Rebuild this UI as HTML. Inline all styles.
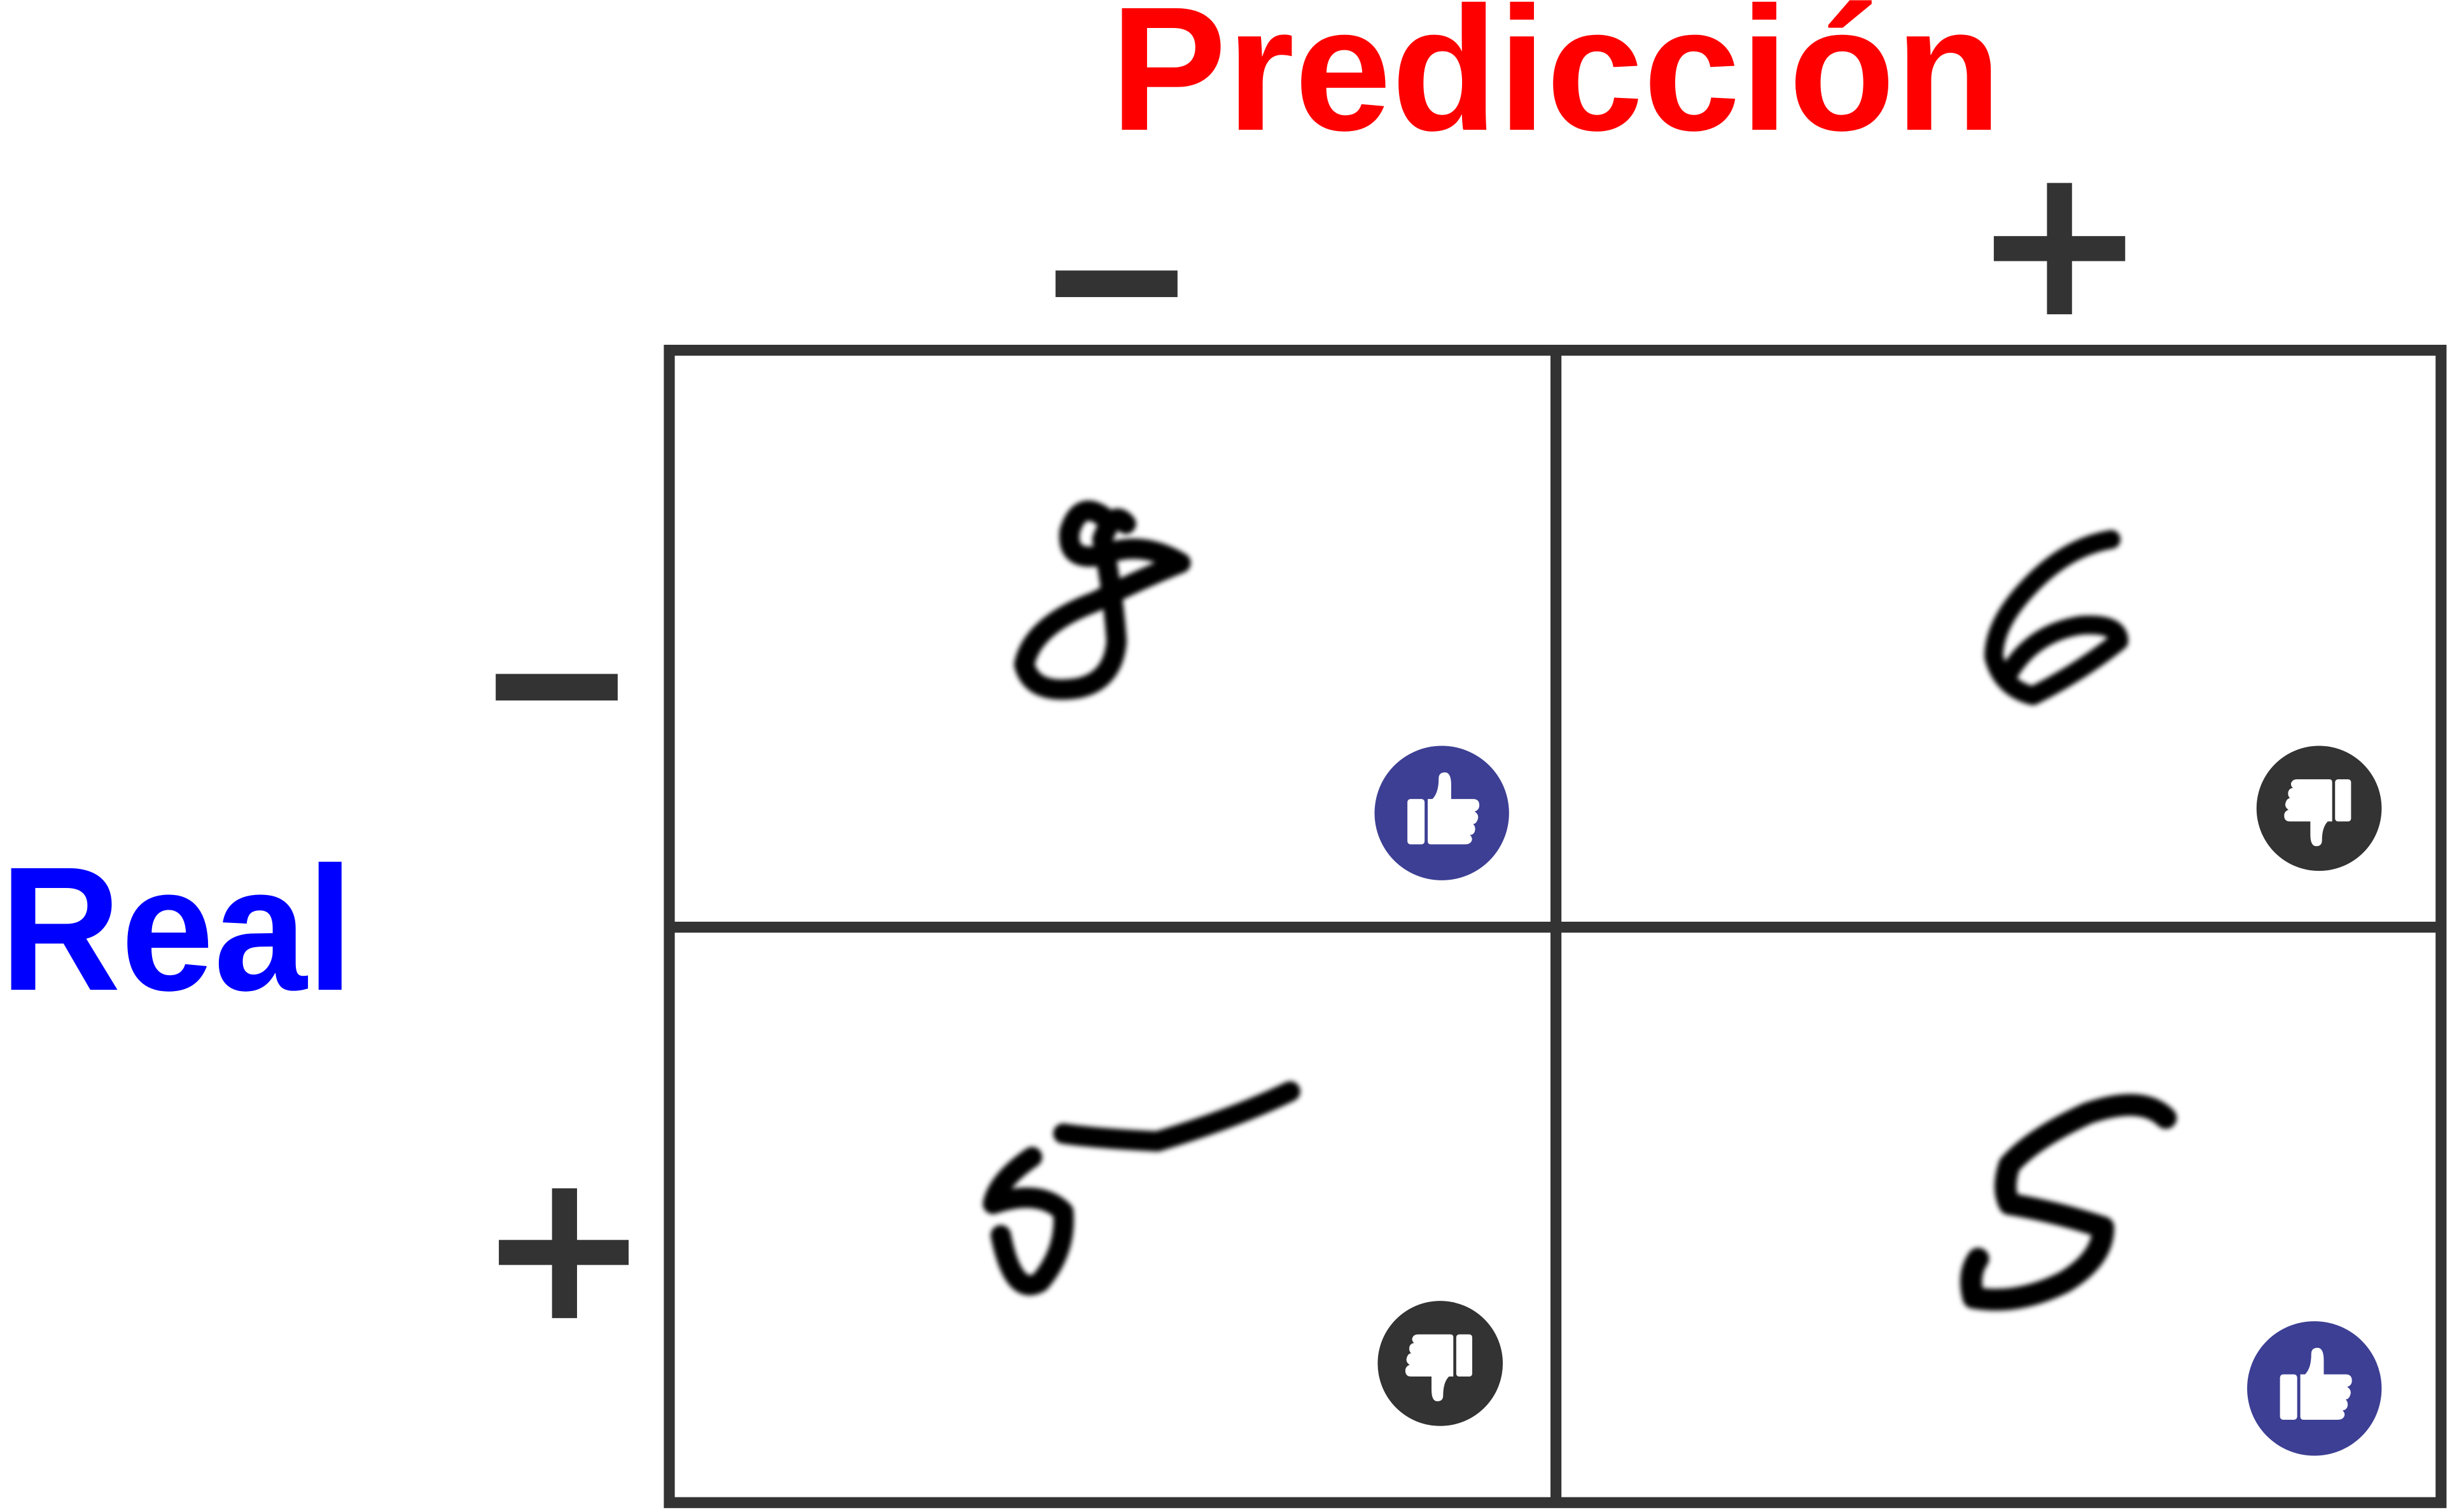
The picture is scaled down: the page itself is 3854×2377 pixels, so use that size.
<!DOCTYPE html>
<html><head><meta charset="utf-8"><style>
html,body{margin:0;padding:0;background:#fff;}
svg{display:block;}
</style></head><body>
<svg width="3854" height="2377" viewBox="0 0 1568 967" preserveAspectRatio="none" xmlns="http://www.w3.org/2000/svg">
<defs>
<filter id="blur" x="-20%" y="-20%" width="140%" height="140%"><feGaussianBlur stdDeviation="1.6"/></filter>
<g id="thumb">
<rect x="-22" y="-9" width="11" height="29" rx="2" fill="#fff"/>
<path d="M-9,-9 L-6,-9 Q-2,-13 -2,-22 Q-2,-26 2,-26 Q6,-26 6,-18 L6,-9 L20,-9 Q24,-9 24,-5 Q24,-2 21,-1 Q24,1 23,4 Q22,7 20,7 Q22,9 21,12 Q20,14 18,14 Q20,16 19,18 Q18,20 15,20 L-7,20 Q-9,20 -9,18 Z" fill="#fff"/>
</g>
</defs>
<rect width="1568" height="967" fill="#fff"/>
<text x="710" y="83" font-family="Liberation Sans, sans-serif" font-weight="bold" font-size="113" fill="#ff0000" textLength="570" lengthAdjust="spacingAndGlyphs">Predicción</text>
<text x="0" y="633" font-family="Liberation Sans, sans-serif" font-weight="bold" font-size="113" fill="#0000ff" textLength="226" lengthAdjust="spacingAndGlyphs">Real</text>
<g fill="#333">
<rect x="675" y="173" width="78" height="17"/>
<g><rect x="1275" y="151" width="84" height="16"/><rect x="1309" y="117" width="16" height="84"/></g>
<rect x="317" y="431" width="78" height="17"/>
<g><rect x="319" y="793" width="83" height="16"/><rect x="353" y="760" width="16" height="83"/></g>
</g>
<g stroke="#333" stroke-width="7" fill="none">
<rect x="428" y="224" width="1133" height="737"/>
<line x1="995" y1="224" x2="995" y2="961"/>
<line x1="428" y1="593" x2="1561" y2="593"/>
</g>
<g stroke="#000" fill="none" stroke-linecap="round" stroke-linejoin="round" filter="url(#blur)">
<path stroke-width="13" d="M705,330 Q690,320 684,340 Q682,360 705,355 Q730,345 755,360 Q730,370 700,385 Q660,400 655,425 Q660,445 690,440 Q712,435 714,410 Q712,380 705,345 Q712,325 720,335"/>
<path stroke-width="12" d="M1350,345 Q1320,350 1295,378 Q1275,400 1275,420 Q1280,440 1300,445 Q1330,430 1355,410 Q1355,398 1330,400 Q1300,405 1285,430"/>
<path stroke-width="13" d="M680,725 Q700,728 740,730 Q790,715 825,698 M660,740 Q638,755 635,770 Q665,760 680,775 Q682,800 665,820 Q648,830 640,790"/>
<path stroke-width="14" d="M1385,715 Q1370,700 1335,712 Q1300,728 1285,745 Q1280,760 1285,770 Q1315,775 1345,785 Q1345,805 1320,820 Q1290,835 1262,830 Q1258,815 1265,805"/>
</g>
<g transform="translate(922,520)"><circle r="43" fill="#3d3f94"/><use href="#thumb"/></g>
<g transform="translate(1483,517)"><circle r="40" fill="#333"/><use href="#thumb" transform="rotate(180) scale(0.93)"/></g>
<g transform="translate(921,872)"><circle r="40" fill="#333"/><use href="#thumb" transform="rotate(180) scale(0.93)"/></g>
<g transform="translate(1480,888)"><circle r="43" fill="#3d3f94"/><use href="#thumb"/></g>
</svg>
</body></html>
